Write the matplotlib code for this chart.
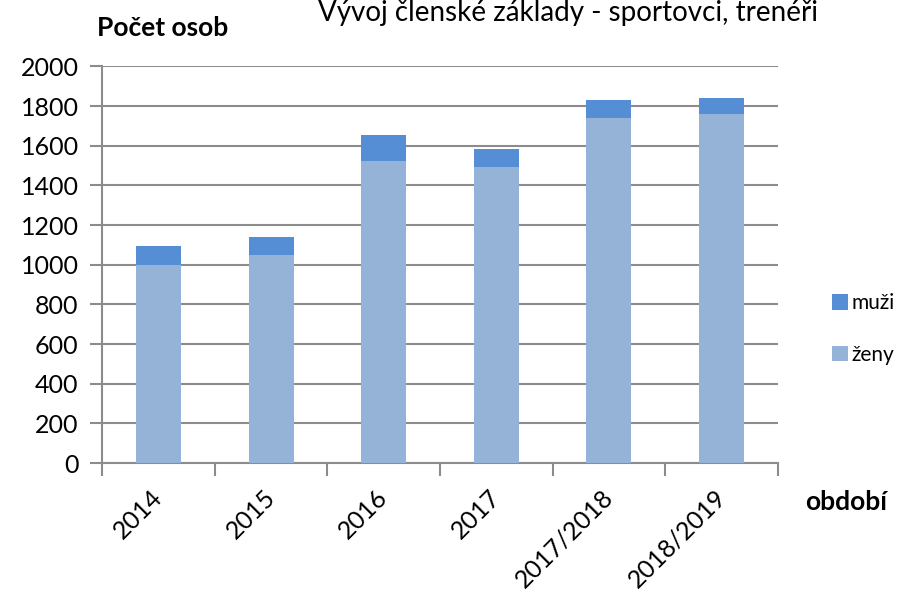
import matplotlib
matplotlib.use("Agg")
import matplotlib.pyplot as plt
import matplotlib.transforms as mtransforms
import numpy as np

categories = ["2014", "2015", "2016", "2017", "2017/2018", "2018/2019"]
zeny = [1000, 1050, 1525, 1490, 1738, 1760]
muzi = [93, 92, 130, 95, 92, 82]
yticks = [0, 200, 400, 600, 800, 1000, 1200, 1400, 1600, 1800, 2000]

c_zeny = "#95B3D7"
c_muzi = "#558ED5"
grid_c = "#8C8C8C"
font = ["Lato", "DejaVu Sans"]
plt.rcParams["font.family"] = font

fig = plt.figure(figsize=(9.13, 6.01), dpi=100)
ax = fig.add_axes([0.112, 0.2296, 0.740, 0.660])

x = np.arange(len(categories))
ax.bar(x, zeny, width=0.4, color=c_zeny, zorder=3, label="ženy")
ax.bar(x, muzi, width=0.4, bottom=zeny, color=c_muzi, zorder=3, label="muži")

ax.set_xlim(-0.5, len(categories) - 0.5)
ax.set_ylim(0, 2000)
ax.set_yticks(yticks)
ax.set_yticklabels([str(v) for v in yticks], fontsize=18)
ax.yaxis.grid(True, color=grid_c, linewidth=1.5, zorder=0)
ax.set_axisbelow(True)

for s in ["top", "right"]:
    ax.spines[s].set_visible(False)
for s in ["left", "bottom"]:
    ax.spines[s].set_color(grid_c)
    ax.spines[s].set_linewidth(1.5)

ax.tick_params(axis="y", length=9, width=1.5, color=grid_c, pad=8)
ax.set_xticks(np.arange(-0.5, len(categories), 1.0))
ax.set_xticklabels([])
ax.tick_params(axis="x", length=9, width=1.5, color=grid_c)
ax.set_xticks(x, minor=True)
ax.set_xticklabels(categories, minor=True, rotation=45, ha="right",
                   rotation_mode="anchor", fontsize=18)
ax.tick_params(axis="x", which="minor", length=0, pad=16)
offset = mtransforms.ScaledTranslation(-8 / 100, 0, fig.dpi_scale_trans)
for lbl in ax.get_xticklabels(minor=True):
    lbl.set_transform(lbl.get_transform() + offset)

fig.text(97 / 913, 1 - 28 / 601, "Počet osob", fontsize=19, fontweight="bold",
         ha="left", va="center")
fig.text(805 / 913, 1 - 502 / 601, "období", fontsize=19, fontweight="bold",
         ha="left", va="center")
fig.text(318 / 913, 1 - 13 / 601, "Vývoj členské základy - sportovci, trenéři",
         fontsize=20, ha="left", va="center")

handles, labels = ax.get_legend_handles_labels()
leg = fig.legend(handles[::-1], labels[::-1], loc="center left",
                 bbox_to_anchor=(832 / 913, 1 - 329 / 601), frameon=False,
                 fontsize=15, handlelength=0.75, handleheight=0.75,
                 handletextpad=0.2, labelspacing=1.5, borderpad=0,
                 borderaxespad=0)

fig.savefig("out.png", dpi=100)
